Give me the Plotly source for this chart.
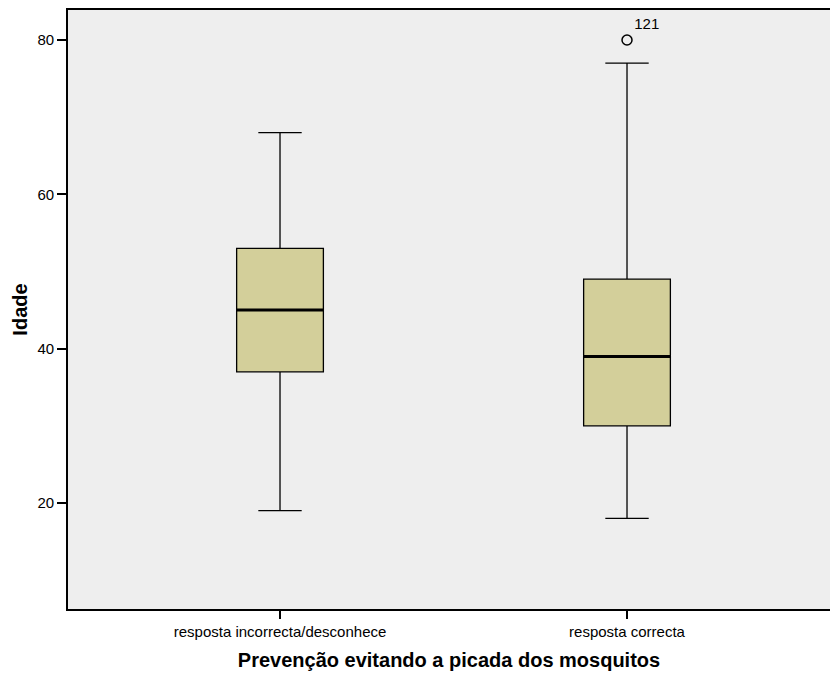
import plotly.graph_objects as go

categories = ["resposta incorrecta/desconhece", "resposta correcta"]
lower_whisker = [19, 18]
q1_values = [37, 30]
medians = [45, 39]
q3_values = [53, 49]
upper_whisker = [68, 77]
outlier_cat = [1]
outlier_values = [80]
outlier_labels = ["121"]

FILL = "#D3CF9A"
BOX_W = 0.25
xpos = list(range(len(categories)))

fig = go.Figure()
fig.add_trace(go.Box(
    x=xpos, q1=q1_values, median=medians, q3=q3_values,
    lowerfence=lower_whisker, upperfence=upper_whisker,
    width=BOX_W, whiskerwidth=0.5,
    fillcolor=FILL, line=dict(color="black", width=1.3),
    boxpoints=False, hoverinfo="skip", showlegend=False,
))
for i, m in zip(xpos, medians):
    fig.add_trace(go.Scatter(
        x=[i - BOX_W / 2, i + BOX_W / 2], y=[m, m], mode="lines",
        line=dict(color="black", width=3), showlegend=False, hoverinfo="skip",
    ))
fig.add_trace(go.Scatter(
    x=outlier_cat, y=outlier_values, mode="markers+text",
    marker=dict(symbol="circle-open", size=10, color="black", line=dict(width=1.5)),
    text=outlier_labels, textposition="top right",
    textfont=dict(family="Liberation Sans, Arial", size=15, color="black"),
    showlegend=False, hoverinfo="skip",
))

fig.update_layout(
    width=830, height=675,
    margin=dict(l=68, r=0, t=10, b=66),
    paper_bgcolor="white", plot_bgcolor="#EEEEEE",
    font=dict(family="Liberation Sans, Arial", size=15, color="black"),
    xaxis=dict(
        range=[-0.611, 1.585], tickvals=xpos, ticktext=categories,
        showgrid=False, zeroline=False,
        showline=True, linecolor="black", linewidth=1.6, mirror=True,
        ticks="outside", ticklen=8, tickcolor="black", tickwidth=1.5,
        title=dict(text="<b>Prevenção evitando a picada dos mosquitos</b>",
                   font=dict(size=20), standoff=14),
    ),
    yaxis=dict(
        range=[6.26, 83.89], tickvals=[20, 40, 60, 80],
        showgrid=False, zeroline=False,
        showline=True, linecolor="black", linewidth=1.6,
        ticks="outside", ticklen=9, tickcolor="black", tickwidth=1.5,
        title=dict(text="<b>Idade</b>", font=dict(size=20), standoff=5),
    ),
)

fig.write_html("out.html", config={"displayModeBar": False})

with open("out.html", "r", encoding="utf-8") as f:
    html = f.read()
html = html.replace("<head>", "<head><style>html,body{margin:0;padding:0;overflow:hidden;}</style>", 1)
with open("out.html", "w", encoding="utf-8") as f:
    f.write(html)
